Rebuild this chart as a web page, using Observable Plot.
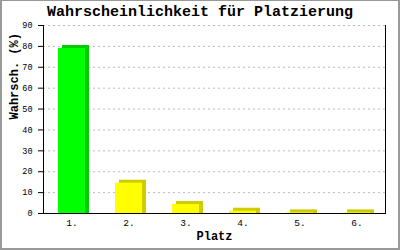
<!DOCTYPE html>
<html>
<head>
<meta charset="utf-8">
<script src="https://cdn.jsdelivr.net/npm/d3@7"></script>
<script src="https://cdn.jsdelivr.net/npm/@observablehq/plot@0.6"></script>
<style>
  html, body { margin: 0; padding: 0; background: #fff; }
  #wrap { position: relative; width: 400px; height: 250px; overflow: hidden; }
  #border { position: absolute; left: 0; top: 0; width: 400px; height: 250px; box-sizing: border-box;
            border-style: solid; border-color: #999; border-width: 1px 2px 2px 2px; pointer-events: none; }
  #title { position: absolute; left: 0; top: 3px; width: 400px; text-align: center;
           font-family: "Liberation Mono", "DejaVu Sans Mono", monospace; font-weight: bold; font-size: 15px; line-height: 20px; }
  #chart { position: absolute; left: 0; top: 0; }
</style>
</head>
<body>
<div id="wrap">
  <div id="chart"></div>
  <div id="title"></div>
  <div id="border"></div>
</div>
<script>
const title = "Wahrscheinlichkeit für Platzierung";
const xLabel = "Platz";
const yLabel = "Wahrsch. (%)";
const categories = ["1.", "2.", "3.", "4.", "5.", "6."];
const values = [79, 14.5, 4.3, 1.1, 0.3, 0.3];
const yTicks = [0, 10, 20, 30, 40, 50, 60, 70, 80, 90];

document.getElementById("title").textContent = title;

const data = categories.map((c, i) => ({cat: c, value: values[i], first: i === 0}));
const mono = "'Liberation Mono', 'DejaVu Sans Mono', monospace";

const frontFill = d => d.first ? "#00ff00" : "#ffff00";
const sideFill = d => d.first ? "#00cc00" : "#cccc00";

const marks = [
  Plot.gridY(yTicks.filter(t => t > 0), {stroke: "#bbb", strokeOpacity: 1, strokeDasharray: "2,3"}),
  Plot.barY(data, {x: "cat", y: "value", fill: sideFill, dx: 4, dy: -3, insetBottom: -3}),
  Plot.barY(data, {x: "cat", y: "value", fill: frontFill}),
  Plot.ruleY([0], {stroke: "#000"}),
  Plot.axisY({ticks: yTicks, tickSize: 5, tickPadding: 6, fontSize: 8.5, fontFamily: mono, label: null, stroke: "#000"}),
  Plot.axisX({tickSize: 0, tickPadding: 6, fontSize: 9.5, fontFamily: mono, label: null}),
  Plot.text([yLabel], {frameAnchor: "left", rotate: -90, dx: -29, fontWeight: "bold", fontSize: 12, fontFamily: mono, fill: "#000"}),
  Plot.text([xLabel], {frameAnchor: "bottom", dy: 26, fontWeight: "bold", fontSize: 12, fontFamily: mono, fill: "#000"})
];
try {
  marks.push(Plot.frame({anchor: "left", stroke: "#000", strokeOpacity: 1}));
  marks.push(Plot.frame({anchor: "right", stroke: "#000", strokeOpacity: 1}));
} catch (e) {}

const chart = Plot.plot({
  width: 400,
  height: 250,
  marginLeft: 43,
  marginRight: 15,
  marginTop: 25,
  marginBottom: 37,
  style: {background: "transparent", color: "#000"},
  x: {domain: categories, paddingInner: 0.52, paddingOuter: 0.26, axis: null},
  y: {domain: [0, 90], axis: null},
  marks
});
document.getElementById("chart").appendChild(chart);
</script>
</body>
</html>
